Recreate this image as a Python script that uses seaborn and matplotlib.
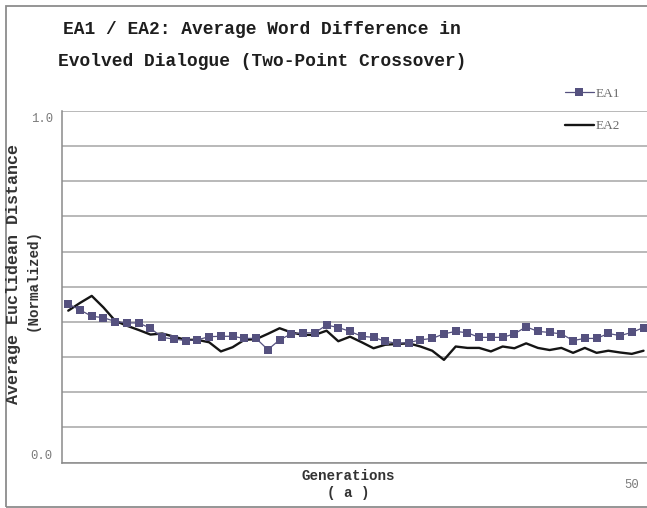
import matplotlib
matplotlib.use("Agg")
import matplotlib.pyplot as plt
import matplotlib.patches as mpatches
import matplotlib.transforms as mtransforms
import numpy as np
import pandas as pd
import seaborn as sns

# Generations 1..50 and the averaged, normalized distances for each run
generations = list(range(1, 51))
ea1 = [0.451, 0.434, 0.416, 0.412, 0.401, 0.397, 0.397, 0.382, 0.356, 0.351,
       0.347, 0.349, 0.358, 0.359, 0.359, 0.353, 0.353, 0.321, 0.349, 0.366,
       0.369, 0.369, 0.391, 0.384, 0.373, 0.359, 0.356, 0.345, 0.339, 0.341,
       0.349, 0.353, 0.366, 0.373, 0.369, 0.356, 0.356, 0.356, 0.366, 0.386,
       0.373, 0.370, 0.366, 0.347, 0.353, 0.353, 0.367, 0.361, 0.370, 0.384]
ea2 = [0.432, 0.454, 0.474, 0.441, 0.403, 0.389, 0.377, 0.364, 0.367, 0.358,
       0.349, 0.349, 0.342, 0.316, 0.328, 0.349, 0.351, 0.366, 0.382, 0.370,
       0.363, 0.363, 0.375, 0.345, 0.358, 0.342, 0.325, 0.335, 0.337, 0.339,
       0.330, 0.318, 0.292, 0.330, 0.326, 0.326, 0.316, 0.330, 0.325, 0.339,
       0.326, 0.320, 0.326, 0.312, 0.326, 0.312, 0.318, 0.313, 0.309, 0.318]
series_names = ["EA1", "EA2"]
y_tick_labels = ["0.0", "1.0"]
x_tick_label = "50"

df = pd.DataFrame({"Generation": generations, "EA1": ea1, "EA2": ea2})

sns.set_theme(style="white")
plt.rcParams["font.family"] = ["Liberation Mono", "DejaVu Sans"]

W, H = 647, 508
fig = plt.figure(figsize=(W / 100, H / 100), dpi=100)
ax = fig.add_axes([62.4 / W, 1 - 462.5 / H, 587 / W, 351.5 / H])

ea1_color = "#55517F"
sns.lineplot(data=df, x="Generation", y="EA2", ax=ax, color="#151515",
             linewidth=1.7, label=series_names[1], zorder=2)
sns.lineplot(data=df, x="Generation", y="EA1", ax=ax, color=ea1_color,
             linewidth=0.9, marker="s", markersize=5.2, markeredgewidth=0,
             label=series_names[0], zorder=3)

ax.set_xlim(0.5, 50.5)
ax.set_ylim(0.0, 1.0)

def px_shift(dx, dy):
    return mtransforms.ScaledTranslation(dx / 100, dy / 100, fig.dpi_scale_trans)

# gridlines every 0.1, labels only at the ends
ax.set_yticks(np.arange(0, 1.01, 0.1))
ax.set_yticklabels([y_tick_labels[0]] + [""] * 9 + [y_tick_labels[1]])
ax.yaxis.grid(True, color="#a6a6a6", linewidth=1.1)
ax.xaxis.grid(False)
ax.tick_params(axis="y", length=0, pad=7, labelsize=8.8, labelcolor="#7a7a7a")
ylabels = ax.get_yticklabels()
ylabels[0].set_transform(ylabels[0].get_transform() + px_shift(0, 8))
ylabels[-1].set_transform(ylabels[-1].get_transform() + px_shift(0, -6))

ax.set_xticks([50])
ax.set_xticklabels([x_tick_label])
ax.tick_params(axis="x", length=0, pad=12, labelsize=8.8, labelcolor="#7a7a7a")
xl = ax.get_xticklabels()[0]
xl.set_transform(xl.get_transform() + px_shift(-12, 0))

for side in ("top", "right"):
    ax.spines[side].set_visible(False)
for side in ("left", "bottom"):
    ax.spines[side].set_color("#8a8a8a")
    ax.spines[side].set_linewidth(1.1)

ax.set_xlabel("")
ax.set_ylabel("")

# axis titles
fig.text(348 / W, 1 - 476 / H, "Generations", ha="center", va="center",
         fontsize=10.3, fontweight="bold", color="#333333")
fig.text(348 / W, 1 - 493 / H, "( a )", ha="center", va="center",
         fontsize=10.3, fontweight="bold", color="#333333")
fig.text(14 / W, 1 - 274 / H, "Average Euclidean Distance", ha="center",
         va="center", rotation=90, fontsize=12, fontweight="bold", color="#333333")
fig.text(33 / W, 1 - 280 / H, "(Normalized)", ha="center", va="center",
         rotation=90, fontsize=10.3, fontweight="bold", color="#333333")

# chart title
fig.text(262 / W, 1 - 30 / H, "EA1 / EA2: Average Word Difference in",
         ha="center", va="center", fontsize=12.9, fontweight="bold", color="#1e1e1e")
fig.text(262 / W, 1 - 62 / H, "Evolved Dialogue (Two-Point Crossover)",
         ha="center", va="center", fontsize=12.9, fontweight="bold", color="#1e1e1e")

# legend, EA1 first
handles, labels = ax.get_legend_handles_labels()
order = [labels.index(n) for n in series_names]
leg = fig.legend([handles[i] for i in order], [labels[i] for i in order],
                 loc="upper right", bbox_to_anchor=(627 / W, 1 - 81 / H),
                 frameon=False, borderpad=0, labelspacing=1.5,
                 handlelength=2.2, handletextpad=0.15,
                 prop={"family": "Liberation Serif", "size": 9.6})
for t in leg.get_texts():
    t.set_color("#6a6a6a")
ax.get_legend().remove()

# outer chart border
fig.patches.append(mpatches.Rectangle((5.5 / W, 1 - 507 / H), 2.0, 501 / H,
                                      transform=fig.transFigure, fill=False,
                                      edgecolor="#8c8c8c", linewidth=1.3))

fig.savefig("out.png", dpi=100)
